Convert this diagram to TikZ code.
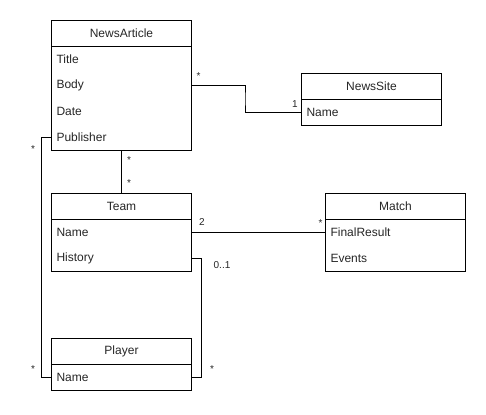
\documentclass[tikz,border=0pt]{standalone}
\usepackage{fontspec}
\setmainfont{Liberation Sans}
\begin{document}
\begin{tikzpicture}[x=1pt,y=-1pt,
  hdr/.style={draw, line width=1pt, minimum width=140pt, minimum height=26pt, inner sep=0pt, font=\fontsize{12}{14}\selectfont, text=black!85},
  bodybox/.style={draw, line width=1pt, minimum width=140pt, inner sep=0pt},
  attr/.style={text width=130pt, align=left, inner xsep=5pt, inner ysep=0pt, minimum height=26pt, font=\fontsize{12}{14}\selectfont, text=black!85},
  conn/.style={line width=1pt},
  mult/.style={font=\fontsize{10}{12}\selectfont, inner sep=0pt, text=black!85}]
\useasboundingbox (0,0) rectangle (486,414);
% NewsArticle
\node[hdr] (naH) at (121.5,33.5) {NewsArticle};
\node[bodybox, minimum height=104pt] (naB) at (121.5,98.5) {};
\node[attr] (naTitle) at (121.5,59.5) {Title};
\node[attr] (naBody) at (121.5,85.5) {Body};
\node[attr] (naDate) at (121.5,111.5) {Date};
\node[attr] (naPub) at (121.5,137.5) {Publisher};
% NewsSite
\node[hdr] (nsH) at (371.5,86.5) {NewsSite};
\node[bodybox, minimum height=26pt] (nsB) at (371.5,112.5) {};
\node[attr] (nsName) at (371.5,112.5) {Name};
% Team
\node[hdr] (tH) at (121.5,206.5) {Team};
\node[bodybox, minimum height=52pt] (tB) at (121.5,245.5) {};
\node[attr] (tName) at (121.5,232.5) {Name};
\node[attr] (tHist) at (121.5,258.5) {History};
% Match
\node[hdr] (mH) at (395.5,206.5) {Match};
\node[bodybox, minimum height=52pt] (mB) at (395.5,245.5) {};
\node[attr] (mRes) at (395.5,232.5) {FinalResult};
\node[attr] (mEv) at (395.5,258.5) {Events};
% Player
\node[hdr] (pH) at (121.5,351.5) {Player};
\node[bodybox, minimum height=26pt] (pB) at (121.5,377.5) {};
\node[attr] (pName) at (121.5,377.5) {Name};
% connectors
\draw[conn] (naBody.east) -| (245,99) |- (nsName.west);
\draw[conn] (naB.south) -- (tH.north);
\draw[conn] (naPub.west) -- ++(-10,0) |- (pName.west);
\draw[conn] (tName.east) -- (mRes.west);
\draw[conn] (tHist.east) -- ++(10,0) |- (pName.east);
% multiplicities
\node[mult] (m1) at (198.5,76.5) {*};
\node[mult] (m2) at (295,104) {1};
\node[mult] (m3) at (129,160) {*};
\node[mult] (m4) at (129,183) {*};
\node[mult] (m5) at (33,149) {*};
\node[mult] (m6) at (33,369) {*};
\node[mult] (m7) at (202,222) {2};
\node[mult] (m8) at (320.5,223) {*};
\node[mult] (m9) at (222,265) {0..1};
\node[mult] (m10) at (212,369) {*};
\end{tikzpicture}
\end{document}
